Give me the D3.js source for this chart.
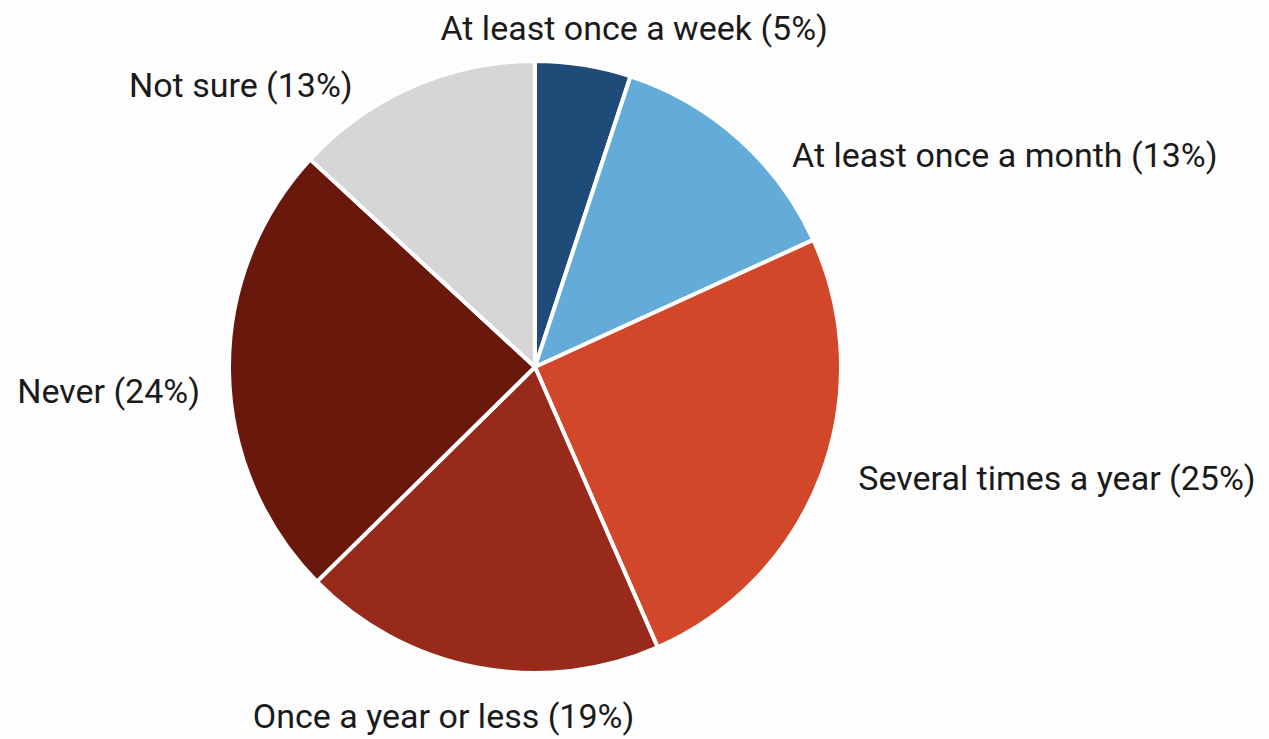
<!DOCTYPE html>
<html>
<head>
<meta charset="utf-8">
<script src="https://cdn.jsdelivr.net/npm/d3@7"></script>
<style>
  body { margin: 0; background: #fdfdfd; }
  svg text { font-family: Roboto, "Open Sans", sans-serif; font-size: 34px; fill: #1a1a1a; }
</style>
</head>
<body>
<svg id="pie_svg" width="1269" height="739"></svg>
<script>
var categories = ["At least once a week", "At least once a month", "Several times a year",
                  "Once a year or less", "Never", "Not sure"];
var shares = [5, 13, 25, 19, 24, 13];
var sliceColors = ["#1f4b79", "#63acd9", "#d2462a", "#972a1b", "#6a180c", "#d6d6d6"];

(function() {
  var svg = d3.select("#pie_svg"),
      cx = 535, cy = 367,
      radius = 306,
      labelRadius = 330;

  var data = categories.map(function(c, i) {
    return {name: c, value: shares[i], color: sliceColors[i]};
  });

  var pie = d3.pie()
      .sort(null)
      .value(function(d) { return d.value; });

  var arc = d3.arc()
      .innerRadius(0)
      .outerRadius(radius);

  var g = svg.append("g")
      .attr("transform", "translate(" + cx + "," + cy + ")");

  var arcs = pie(data);

  g.selectAll(".slice")
    .data(arcs)
    .enter().append("path")
      .attr("class", "slice")
      .attr("d", arc)
      .attr("fill", function(d) { return d.data.color; })
      .attr("stroke", "#ffffff")
      .attr("stroke-width", 4)
      .attr("stroke-linejoin", "round");

  // labels hang off a point just outside the rim on each slice's middle angle,
  // then get hand nudged a bit so they don't crowd the pie
  function midAngle(d) { return (d.startAngle + d.endAngle) / 2; }
  var nudge = [[47, -1], [37, 46], [15, 5], [-29, 37], [-5, 31], [-50, 32]];

  g.selectAll(".label")
    .data(arcs)
    .enter().append("text")
      .attr("class", "label")
      .attr("x", function(d) { return Math.sin(midAngle(d)) * labelRadius; })
      .attr("y", function(d) { return -Math.cos(midAngle(d)) * labelRadius; })
      .attr("dx", function(d, i) { return nudge[i][0]; })
      .attr("dy", function(d, i) { return nudge[i][1]; })
      .attr("text-anchor", function(d) {
        var s = Math.sin(midAngle(d));
        return s > 0.3 ? "start" : (s < -0.3 ? "end" : "middle");
      })
      .text(function(d) { return d.data.name + " (" + d.data.value + "%)"; });
})();
</script>
</body>
</html>
